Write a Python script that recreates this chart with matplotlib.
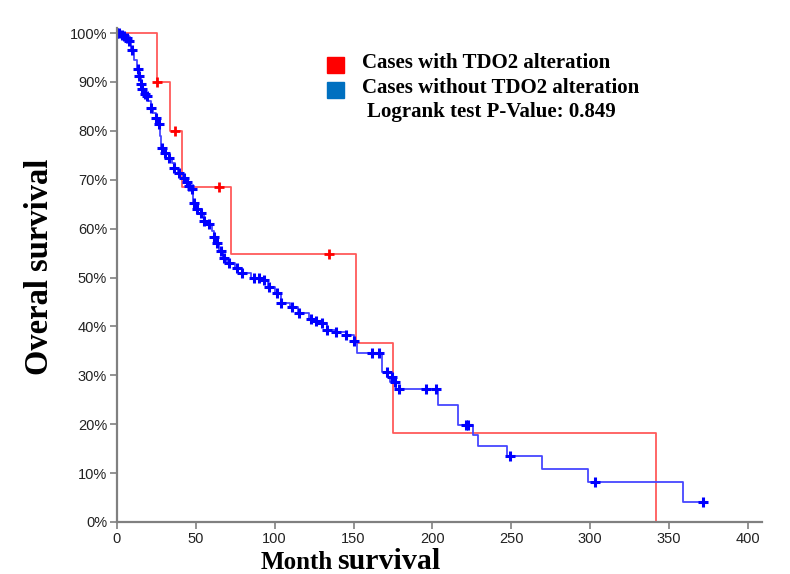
import matplotlib.pyplot as plt
from matplotlib.patches import Rectangle

plt.rcParams.update({
    'font.family': ['Liberation Sans', 'DejaVu Sans'],
    'font.size': 10.5,
})

# Cases with TDO2 alteration (step curve + censored marks)
red_t = [0, 25.6, 33.7, 41.5, 72.2, 151.5, 175.2, 341.6]
red_s = [100, 90, 80, 68.6, 54.9, 36.6, 18.3, 0]
red_cens_t = [25.6, 36.8, 64.8, 134.6]
red_cens_s = [90, 80, 68.6, 54.9]

# Cases without TDO2 alteration
blue_t = [0, 3, 6, 7.5, 9, 11, 13, 14, 15, 15.8,
          17.5, 18.8, 20, 21.5, 23, 24.5, 26.5, 27.5, 28, 31,
          33, 35, 37, 39, 42, 44, 45.5, 47, 48.5, 50,
          53, 55, 58, 60, 61.5, 63, 65, 67, 69, 71,
          75, 79, 85, 94, 96, 100, 104, 110, 115, 122,
          126, 130, 133, 138, 145, 150, 152.4, 168.3, 171, 173,
          177, 203.5, 216.5, 226, 229.2, 247.6, 269.8, 298.4, 358.7, 371.4]
blue_s = [100, 99.6, 98.9, 98.4, 96.5, 94.5, 92.7, 91.2, 89.6, 88.6,
          87.6, 87.1, 86, 84.7, 83.7, 82.7, 81.4, 79, 76.5, 75.5,
          74.5, 73.4, 72.4, 71.4, 70.4, 69.6, 68.8, 68.2, 65.3, 64.1,
          63.1, 61.6, 61.0, 59.5, 58.2, 57.1, 55.5, 53.9, 53.4, 52.9,
          52.0, 51.0, 49.8, 49.4, 48.0, 46.9, 44.7, 43.9, 42.7, 41.6,
          41.2, 40.6, 39.2, 38.8, 38.2, 37.1, 34.5, 30.6, 29.6, 28.6,
          27.3, 24.0, 19.8, 17.8, 15.5, 13.5, 10.8, 8.2, 4.1, 4.1]
blue_cens_t = [0.2, 1.5, 3.2, 4.5, 6.3, 7.6, 9.5, 13.3, 14.0, 15.2,
               15.9, 17.8, 19.0, 21.6, 24.8, 26.7, 28.6, 30.5, 33.0, 36.2,
               39.4, 42.5, 44.5, 45.7, 47.6, 48.9, 50.8, 53.3, 55.2, 58.4,
               61.6, 63.5, 66.0, 67.9, 71.1, 76.2, 79.4, 87.0, 90.2, 93.3,
               96.5, 101.6, 104.1, 111.1, 115.6, 123.2, 126.3, 130.2, 133.3, 139.0,
               145.4, 150.5, 161.9, 166.3, 171.4, 174.6, 176, 179.0, 196.2, 202.5,
               221.0, 222.9, 249.5, 302.9, 371.4]
blue_cens_s = [100, 100, 99.6, 99.3, 98.9, 98.4, 96.5, 92.7, 91.2, 89.6,
               88.6, 87.6, 87.1, 84.7, 82.7, 81.4, 76.5, 75.5, 74.5, 72.4,
               71.4, 70.4, 69.6, 68.8, 68.2, 65.3, 64.1, 63.1, 61.6, 61.0,
               58.2, 57.1, 55.5, 53.9, 52.9, 52.0, 51.0, 49.8, 49.8, 49.4,
               48.0, 46.9, 44.7, 43.9, 42.7, 41.6, 41.2, 40.6, 39.2, 38.8,
               38.2, 37.1, 34.5, 34.5, 30.6, 29.6, 28.6, 27.3, 27.3, 27.3,
               19.8, 19.8, 13.5, 8.2, 4.1]

y_ticks = [0, 10, 20, 30, 40, 50, 60, 70, 80, 90, 100]
y_labels = ['0%', '10%', '20%', '30%', '40%', '50%', '60%', '70%', '80%', '90%', '100%']
x_ticks = [0, 50, 100, 150, 200, 250, 300, 350, 400]

fig = plt.figure(figsize=(7.9, 5.74), dpi=100)
ax = fig.add_axes([0.148, 0.0906, 0.8166, 0.8604])

ax.step(red_t, red_s, where='post', color='#ff5a5a', lw=1.3)
ax.plot(red_cens_t, red_cens_s, '+', color='#ff0000', ms=7, mew=2)
ax.step(blue_t, blue_s, where='post', color='#4646ff', lw=1.3)
ax.plot(blue_cens_t, blue_cens_s, '+', color='#0000ff', ms=7, mew=2.2)

ax.set_xlim(0, 409)
ax.set_ylim(0, 101)
ax.set_xticks(x_ticks)
ax.set_yticks(y_ticks)
ax.set_yticklabels(y_labels)
for side in ['top', 'right']:
    ax.spines[side].set_visible(False)
for side in ['left', 'bottom']:
    ax.spines[side].set_color('#808080')
    ax.spines[side].set_linewidth(1.6)
ax.tick_params(colors='#808080', labelcolor='#222222', length=5, width=1.2, pad=2)

serif = ['Liberation Serif', 'DejaVu Serif']
fig.text(0.05, 1 - 267 / 574, 'Overal survival', rotation=90, ha='center', va='center',
         family=serif, fontweight='bold', fontsize=23.5)
fig.text(333 / 790, 1 - 569 / 574, 'Month', ha='right', va='baseline',
         family=serif, fontweight='bold', fontsize=18)
fig.text(337 / 790, 1 - 569 / 574, 'survival', ha='left', va='baseline',
         family=serif, fontweight='bold', fontsize=21.5)

# legend block
fig.add_artist(Rectangle((327 / 790, 1 - 73 / 574), 17 / 790, 16 / 574,
                         transform=fig.transFigure, color='#ff0000'))
fig.add_artist(Rectangle((327 / 790, 1 - 98 / 574), 17 / 790, 16 / 574,
                         transform=fig.transFigure, color='#0070c0'))
fig.text(362 / 790, 1 - 68 / 574, 'Cases with TDO2 alteration', va='baseline',
         family=serif, fontweight='bold', fontsize=15)
fig.text(362 / 790, 1 - 93 / 574, 'Cases without TDO2 alteration', va='baseline',
         family=serif, fontweight='bold', fontsize=15)
fig.text(367 / 790, 1 - 117 / 574, 'Logrank test P-Value: 0.849', va='baseline',
         family=serif, fontweight='bold', fontsize=15)

fig.savefig('out.png', dpi=100)
